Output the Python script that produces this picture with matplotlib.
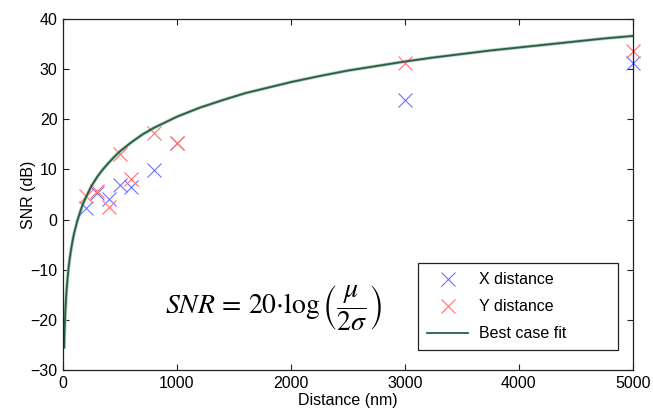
#! /usr/bin/env python3
# SNR vs. distance: measured X/Y points and best case log fit

import numpy as np
import matplotlib
matplotlib.use('Agg')
import matplotlib.pyplot as plt

# measured points
distance = np.array([200, 300, 400, 500, 600, 800, 1000, 3000, 5000])
snr_x = np.array([2.3, 5.3, 4.0, 6.9, 6.4, 9.8, 15.3, 23.9, 31.2])
snr_y = np.array([4.6, 5.6, 2.5, 13.1, 8.0, 17.3, 15.3, 31.3, 33.7])

# best case fit
fit_distance = np.array([10, 12, 15, 20, 25, 30, 40, 50, 60, 70, 85, 100,
                         125, 150, 175, 200, 250, 300, 350, 400, 450, 500,
                         600, 700, 800, 900, 1000, 1200, 1400, 1600, 1800,
                         2000, 2250, 2500, 2750, 3000, 3250, 3500, 3750, 4000,
                         4250, 4500, 4750, 5000])
fit_snr = np.array([-25.5, -23.7, -21.4, -18.6, -16.4, -14.5, -11.7, -9.4,
                    -7.6, -6.1, -4.1, -2.5, -0.3, 1.5, 3.1, 4.4, 6.7, 8.5,
                    10.0, 11.3, 12.5, 13.6, 15.4, 17.0, 18.3, 19.4, 20.5,
                    22.3, 23.8, 25.2, 26.3, 27.4, 28.6, 29.7, 30.6, 31.5,
                    32.3, 33.0, 33.7, 34.3, 34.9, 35.5, 36.1, 36.6])

xticks = [0, 1000, 2000, 3000, 4000, 5000]
yticks = [-30, -20, -10, 0, 10, 20, 30, 40]

matplotlib.rcParams['font.family'] = ['Liberation Sans', 'DejaVu Sans']
matplotlib.rcParams['font.size'] = 11.5
matplotlib.rcParams['mathtext.fontset'] = 'stix'

fig = plt.figure(figsize=(6.53, 4.11), dpi=100)
ax = fig.add_axes([0.0965, 0.0998, 0.8725, 0.8542])

ax.plot(distance, snr_x, 'x', color='#7070ff', ms=10, mew=0.8,
        clip_on=False, label='X distance')
ax.plot(distance, snr_y, 'x', color='#ff7070', ms=10, mew=0.8,
        clip_on=False, label='Y distance')
ax.plot(fit_distance, fit_snr, '-', color='#a9cdb8', lw=2.4, zorder=1.9)
ax.plot(fit_distance, fit_snr, '-', color='#2b5e45', lw=1.3, zorder=2,
        label='Best case fit')

ax.set_xlim(0, 5000)
ax.set_ylim(-30, 40)
ax.set_xticks(xticks)
ax.set_yticks(yticks)
ax.tick_params(direction='in', length=4, width=0.8, top=True, right=True,
               colors='#222222', labelcolor='black', pad=4)
for s in ax.spines.values():
    s.set_color('#222222')
    s.set_linewidth(0.9)

ax.set_xlabel('Distance (nm)', labelpad=2)
ax.set_ylabel('SNR (dB)', labelpad=-4)

ax.text(895, -17.6, r'$SNR\,=\,20{\cdot}\log\left(\dfrac{\mu}{2\sigma}\right)$',
        fontsize=20, va='center', ha='left')

leg = ax.legend(loc='lower left', bbox_to_anchor=(0.623, 0.057, 0.351, 0.254),
                mode='expand', fancybox=False, framealpha=1,
                edgecolor='#222222', handlelength=2.6, handletextpad=0.7,
                labelspacing=0.75, borderpad=0.55, borderaxespad=0)
leg.get_frame().set_linewidth(0.9)

plt.savefig('out.png', dpi=100)
